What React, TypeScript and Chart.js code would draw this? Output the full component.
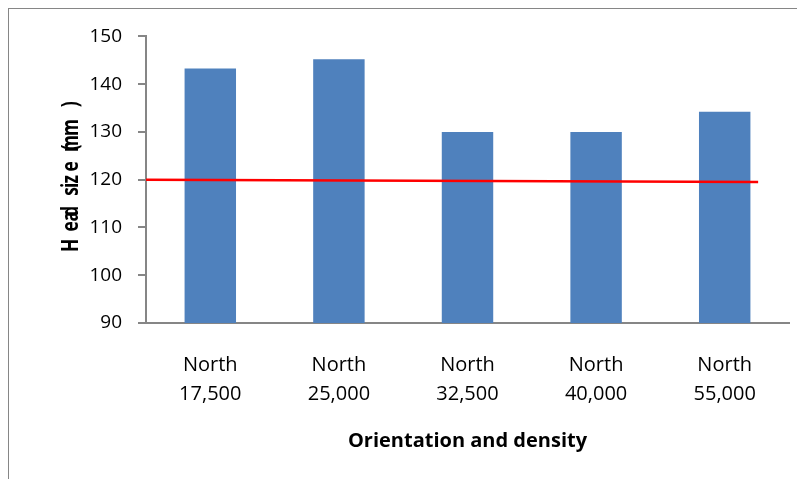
import React, { useEffect, useRef } from "react";
import { Chart, registerables } from "chart.js";

Chart.register(...registerables);

const categories: string[][] = [
  ["North", "17,500"],
  ["North", "25,000"],
  ["North", "32,500"],
  ["North", "40,000"],
  ["North", "55,000"],
];
const headSize = [143.3, 145.2, 130, 130, 134.2];
// reference line, x in category units (category centres at 0..4)
const refLineX = [-0.5, 4.26];
const refLineY = [120, 119.5];
const yMin = 90;
const yMax = 150;
const yStep = 10;
const xTitle = "Orientation and density";

const AXIS_GREY = "#868686";
const FONT = "'Open Sans', 'DejaVu Sans', sans-serif";

// "Head size (mm)" as rendered in the source: glyphs overlapping along the axis
const yTitleGlyphs: [string, number][] = [
  ["H", 209],
  ["e", 190],
  ["a", 180],
  ["d", 175],
  ["s", 155],
  ["i", 149],
  ["z", 143],
  ["e", 130],
  ["(", 111],
  ["m", 107],
  ["m", 91],
  [")", 68],
];

const yTitlePlugin = {
  id: "yTitleGlitch",
  afterDraw(chart: any) {
    const { ctx, chartArea } = chart;
    ctx.save();
    ctx.fillStyle = "#000";
    ctx.font = `bold 24px ${FONT}`;
    ctx.textAlign = "center";
    ctx.textBaseline = "alphabetic";
    const x = chartArea.left - 68;
    for (const [ch, off] of yTitleGlyphs) {
      ctx.save();
      ctx.translate(x, chartArea.top + off);
      ctx.rotate(-Math.PI / 2);
      ctx.scale(0.72, 1);
      ctx.fillText(ch, 0, 0);
      ctx.restore();
    }
    ctx.restore();
  },
};

export default function App() {
  const ref = useRef<HTMLCanvasElement | null>(null);
  useEffect(() => {
    if (!ref.current) return;
    const chart = new Chart(ref.current, {
      type: "bar",
      data: {
        datasets: [
          {
            type: "bar",
            label: "Head size",
            data: headSize.map((v, i) => ({ x: i, y: v })),
            backgroundColor: "#4F81BD",
            borderWidth: 0,
            barPercentage: 0.4,
            categoryPercentage: 1,
            grouped: false,
            order: 2,
          },
          {
            type: "line",
            label: "Reference",
            data: refLineX.map((x, i) => ({ x, y: refLineY[i] })),
            borderColor: "#FF0000",
            borderWidth: 2.5,
            pointRadius: 0,
            fill: false,
            order: 1,
          } as any,
        ],
      },
      options: {
        animation: false,
        responsive: false,
        maintainAspectRatio: false,
        layout: { padding: { left: 0, top: 25, right: 15, bottom: 0 } },
        plugins: {
          legend: { display: false },
          tooltip: { enabled: false },
          title: { display: false },
        },
        scales: {
          x: {
            type: "linear",
            min: -0.5,
            max: categories.length - 0.5,
            offset: false,
            grid: { display: false, drawTicks: false },
            border: { display: true, color: AXIS_GREY, width: 2 },
            afterBuildTicks(scale: any) {
              scale.ticks = categories.map((_, i) => ({ value: i }));
            },
            ticks: {
              color: "#000",
              font: { family: FONT, size: 20, lineHeight: 1.45 },
              padding: 28,
              maxRotation: 0,
              autoSkip: false,
              callback: (v: any) => categories[Math.round(Number(v))] ?? "",
            },
            title: {
              display: true,
              text: xTitle,
              color: "#000",
              font: { family: FONT, size: 20, weight: "bold", lineHeight: 1.2 },
              padding: { top: 0, bottom: 26 },
            },
            afterFit(scale: any) {
              scale.height = 156;
            },
          },
          y: {
            type: "linear",
            min: yMin,
            max: yMax,
            ticks: {
              stepSize: yStep,
              color: "#000",
              font: { family: FONT, size: 19 },
              padding: 16,
            },
            grid: {
              display: true,
              drawOnChartArea: false,
              drawTicks: true,
              tickLength: 8,
              color: AXIS_GREY,
              lineWidth: 2,
            },
            border: { display: true, color: AXIS_GREY, width: 2 },
            title: { display: false },
            afterFit(scale: any) {
              scale.width = 137;
            },
          },
        },
      } as any,
      plugins: [yTitlePlugin],
    });
    return () => chart.destroy();
  }, []);

  return (
    <div
      style={{
        width: 795,
        height: 470,
        marginLeft: -1,
        marginTop: -1,
        borderLeft: `2px solid ${AXIS_GREY}`,
        borderTop: `2px solid ${AXIS_GREY}`,
        background: "#fff",
      }}
    >
      <canvas ref={ref} width={795} height={470} style={{ display: "block" }} />
    </div>
  );
}
